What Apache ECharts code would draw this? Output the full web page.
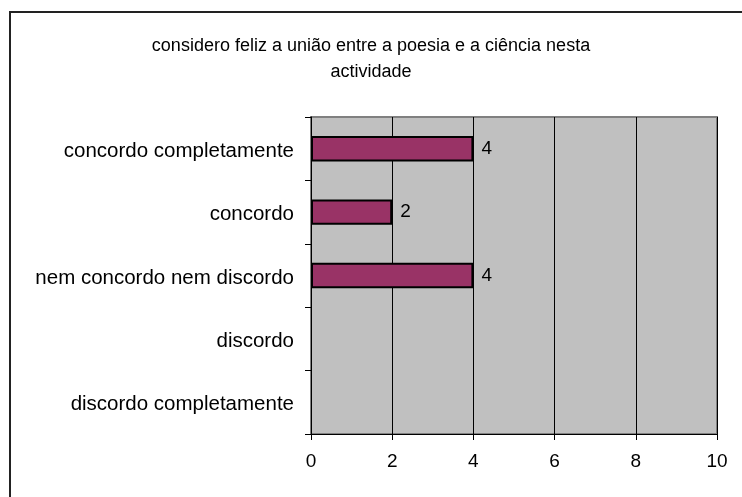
<!DOCTYPE html>
<html><head><meta charset="utf-8">
<script src="https://cdn.jsdelivr.net/npm/echarts@6/dist/echarts.min.js"></script>
<style>html,body{margin:0;padding:0;background:#fff}#c{width:742px;height:497px}</style>
</head><body><div id="c"></div>
<script>
const categories = ['discordo completamente','discordo','nem concordo nem discordo','concordo','concordo completamente'];
const values = [0, 0, 4, 2, 4];
const xTicks = [0, 2, 4, 6, 8, 10];
const titleText = 'considero feliz a união entre a poesia e a ciência nesta\nactividade';

const chart = echarts.init(document.getElementById('c'), null, {renderer:'canvas'});
const font = 'Liberation Sans, Arial, sans-serif';
chart.setOption({
  animation: false,
  graphic: [{
    type: 'rect', shape: {x: 10, y: 12, width: 900, height: 700},
    style: {fill: 'none', stroke: '#222', lineWidth: 2}, silent: true, z: -10
  }],
  title: {
    text: titleText, left: 'center', top: 28,
    textStyle: {fontFamily: font, fontSize: 18, fontWeight: 'normal', color: '#000', lineHeight: 26}
  },
  grid: {left: 311, top: 117, right: 25, bottom: 63, show: true,
    backgroundColor: '#c0c0c0', borderColor: '#808080', borderWidth: 2},
  xAxis: {
    type: 'value', min: xTicks[0], max: xTicks[xTicks.length-1], interval: 2,
    axisLine: {show: true, lineStyle: {color: '#000', width: 1}},
    axisTick: {show: true, length: 6, lineStyle: {color: '#000'}},
    splitLine: {show: true, lineStyle: {color: '#000', width: 1}},
    axisLabel: {fontFamily: font, fontSize: 19, color: '#000', margin: 18}
  },
  yAxis: {
    type: 'category', data: categories,
    axisLine: {show: true, lineStyle: {color: '#000', width: 1}},
    axisTick: {show: true, length: 6, lineStyle: {color: '#000'}},
    axisLabel: {fontFamily: font, fontSize: 20.5, color: '#000', margin: 17,
      formatter: v => '{a|' + v + '}', rich: {a: {fontFamily: font, fontSize: 20.5, color: '#000', padding: [5, 0, 0, 0]}}}
  },
  series: [{
    type: 'bar', barWidth: '40%',
    data: values.map(v => ({value: v, itemStyle: v > 0 ? {} : {borderWidth: 0, opacity: 0}})),
    itemStyle: {color: '#993366', borderColor: '#000', borderWidth: 2},
    label: {show: true, position: 'right', distance: 8, fontFamily: font, fontSize: 19, color: '#000',
      formatter: p => p.value > 0 ? p.value : ''}
  }]
});
</script></body></html>
